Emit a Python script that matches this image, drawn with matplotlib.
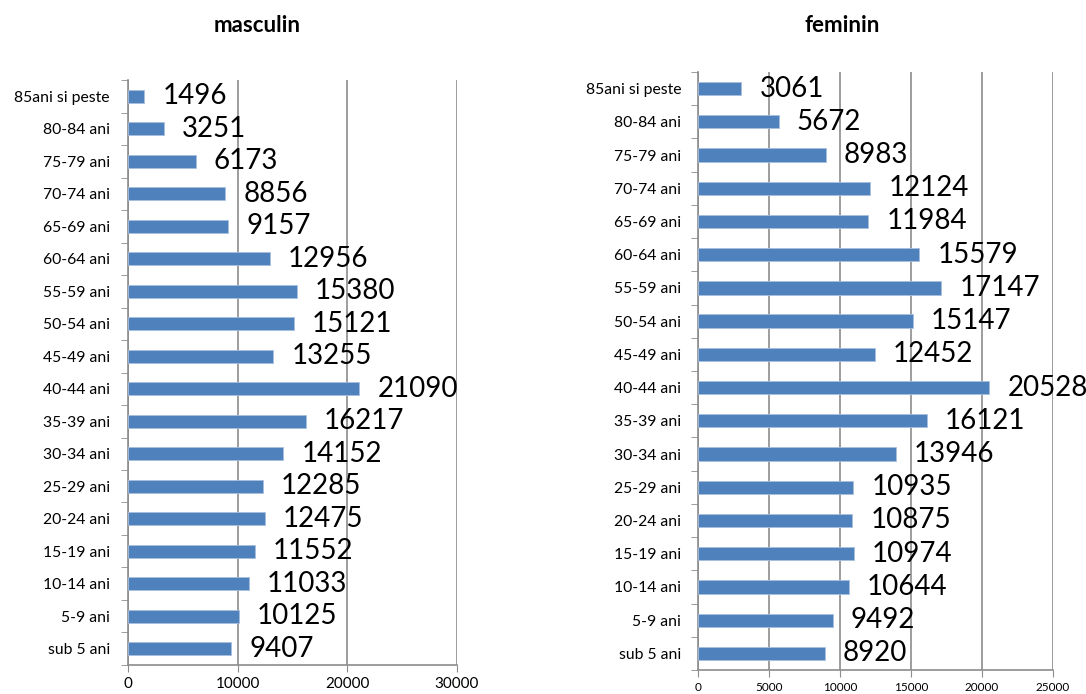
import numpy as np
import matplotlib
matplotlib.use('Agg')
import matplotlib.pyplot as plt

plt.rcParams['font.family'] = ['Lato', 'DejaVu Sans']

age_groups = ['sub 5 ani', '5-9 ani', '10-14 ani', '15-19 ani', '20-24 ani', '25-29 ani',
              '30-34 ani', '35-39 ani', '40-44 ani', '45-49 ani', '50-54 ani', '55-59 ani',
              '60-64 ani', '65-69 ani', '70-74 ani', '75-79 ani', '80-84 ani', '85ani si peste']
masculin = [9407, 10125, 11033, 11552, 12475, 12285, 14152, 16217, 21090,
            13255, 15121, 15380, 12956, 9157, 8856, 6173, 3251, 1496]
feminin = [8920, 9492, 10644, 10974, 10875, 10935, 13946, 16121, 20528,
           12452, 15147, 17147, 15579, 11984, 12124, 8983, 5672, 3061]

bar_color = '#4F81BD'
grid_color = '#8C8C8C'

fig = plt.figure(figsize=(10.86, 6.94), dpi=100)
ax1 = fig.add_axes([0.1179, 0.0418, 0.3029, 0.8429])
ax2 = fig.add_axes([0.6427, 0.0346, 0.3269, 0.8617])


def draw_panel(ax, values, xmax, xstep, tick_fs, label_fs, ypad):
    y = np.arange(len(age_groups))
    ax.barh(y, values, height=0.4, color=bar_color, edgecolor='#A7C0DE', linewidth=0.6, zorder=3)
    for yi, v in zip(y, values):
        ax.annotate(str(v), (v, yi), xytext=(13, 0), textcoords='offset points',
                    va='center', ha='left', fontsize=label_fs, color='black',
                    annotation_clip=False, zorder=4)
    ax.set_xlim(0, xmax)
    ax.set_ylim(-0.5, len(age_groups) - 0.5)
    ax.set_xticks(np.arange(0, xmax + 1, xstep))
    ax.set_yticks(y)
    ax.set_yticklabels(age_groups, fontsize=11.3)
    ax.set_yticks(np.arange(-0.5, len(age_groups), 1), minor=True)
    ax.tick_params(axis='y', which='major', length=0, pad=ypad)
    ax.tick_params(axis='y', which='minor', length=5, color=grid_color, direction='out')
    ax.tick_params(axis='x', length=5, color=grid_color, labelsize=tick_fs, pad=4)
    ax.xaxis.grid(True, color=grid_color, linewidth=1.2, zorder=0)
    for side in ['top', 'right']:
        ax.spines[side].set_visible(False)
    for side in ['left', 'bottom']:
        ax.spines[side].set_color(grid_color)
        ax.spines[side].set_linewidth(1.2)


draw_panel(ax1, masculin, 30000, 10000, 11, 20, 13)
draw_panel(ax2, feminin, 25000, 5000, 8.5, 20, 12)

fig.text(0.2366, 0.963, 'masculin', ha='center', va='center', fontsize=16, fontweight='bold')
fig.text(0.7753, 0.963, 'feminin', ha='center', va='center', fontsize=16, fontweight='bold')

fig.savefig('out.png', dpi=100)
